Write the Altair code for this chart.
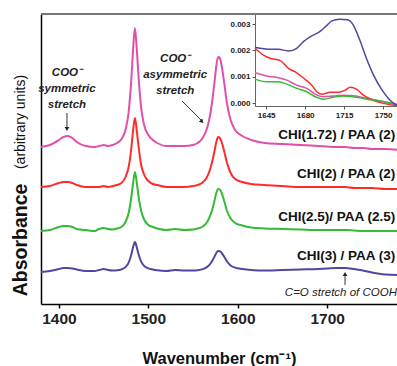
import altair as alt
import pandas as pd

# ---------------- main spectra (offset, arbitrary units) ----------------
wavenumber = [1380, 1390, 1400, 1405, 1410, 1415, 1420, 1430, 1440, 1445,
              1450, 1455, 1460, 1465, 1470, 1475, 1478, 1481, 1483, 1485,
              1487, 1489, 1492, 1495, 1500, 1505, 1510, 1520, 1530, 1540,
              1550, 1555, 1560, 1565, 1568, 1571, 1574, 1576, 1578, 1580,
              1582, 1585, 1588, 1592, 1597, 1605, 1615, 1630, 1650, 1670,
              1690, 1700, 1710, 1720, 1730, 1740, 1750, 1765, 1780]

pink_vals = [157, 159, 164, 167, 168, 166, 162, 158, 157, 158,
             159, 158, 159, 161, 165, 176, 192, 225, 255, 276,
             256, 228, 196, 180, 169, 164, 161, 158, 158, 158,
             159, 161, 165, 174, 184, 200, 222, 238, 247, 246,
             238, 220, 200, 184, 174, 168, 164, 161, 160, 159,
             158, 157.5, 157, 157, 156, 156, 155, 155, 154]

red_vals = [117, 118, 121, 122, 122, 121, 119, 117, 117, 117,
            118, 117, 118, 119, 121, 128, 137, 156, 174, 186,
            174, 158, 139, 130, 123, 120, 119, 117, 117, 117,
            118, 119, 121, 126, 132, 141, 153, 162, 167, 166,
            162, 152, 141, 131, 125, 122, 120, 119, 118, 117,
            117, 117, 117, 117, 116, 116, 116, 115, 115]

green_vals = [73, 74, 77, 78, 78, 77, 75, 74, 73, 75,
              76, 75, 74.5, 75.5, 77, 83, 91, 107, 121, 132,
              122, 108, 93, 85, 79, 77, 75.5, 74, 75, 74,
              74.5, 75.5, 77, 81, 86, 93, 103.5, 111, 115, 114.5,
              111, 102.5, 93, 85.5, 81, 78.5, 76.5, 75.5, 75, 74.5,
              74, 74, 74, 74, 73.5, 73, 73, 73, 73]

blue_vals = [32, 33, 35, 36, 36, 35.5, 34.5, 33, 33, 34,
             35, 34, 33.5, 33.7, 34.7, 37.4, 41.4, 49.5, 57, 62,
             57, 50, 42.3, 38.4, 35.7, 34.5, 33.7, 33, 34, 33.5,
             33.5, 33.7, 34.6, 36.6, 38.9, 42.5, 47.4, 51, 53, 52.8,
             51, 47, 42.5, 38.6, 36.4, 35, 34, 33.5, 34, 34.5,
             35, 35.5, 36, 36, 35, 33.5, 31.5, 29.5, 29]

series_names = ["CHI(1.72) / PAA (2)", "CHI(2) / PAA (2)",
                "CHI(2.5)/ PAA (2.5)", "CHI(3) / PAA (3)"]
series_colors = ["#DF50AA", "#FF2B2B", "#33BB33", "#4F47A0"]

# ---------------- inset spectra ----------------
inset_blue_wn = [1635, 1649, 1656, 1665, 1672.5, 1678.5, 1686, 1693.5, 1699.5, 1704,
                 1711, 1718, 1723, 1729, 1735, 1741, 1749, 1756, 1763]
inset_blue = [0.00212, 0.00204, 0.00204, 0.00198, 0.00208, 0.00233, 0.00255, 0.00272,
              0.00295, 0.00312, 0.00318, 0.00316, 0.00298, 0.00240, 0.00170, 0.00110,
              0.00050, 0.00012, -0.00010]

inset_red_wn = [1635, 1642.6, 1648.6, 1657.6, 1665, 1672.5, 1680, 1686, 1690.5, 1695,
                1702.5, 1710, 1716, 1720.4, 1726.4, 1732.3, 1741, 1750.3, 1763]
inset_red = [0.00208, 0.00182, 0.00170, 0.00161, 0.00132, 0.00115, 0.00090, 0.00068,
             0.00043, 0.00034, 0.00041, 0.00041, 0.00049, 0.00060, 0.00052, 0.00030,
             0.00011, -0.00001, -0.00010]

inset_pg_wn = [1635, 1645.6, 1656, 1663.6, 1672.5, 1681.5, 1689, 1696.4, 1705.4,
               1714.4, 1723.4, 1735.4, 1747.3, 1762.3]
inset_pink = [0.00115, 0.00103, 0.00096, 0.00087, 0.00068, 0.00056, 0.00034, 0.00024,
              0.00027, 0.00030, 0.00028, 0.00018, 0.00008, -0.00008]
inset_green = [0.00091, 0.00081, 0.00081, 0.00072, 0.00056, 0.00043, 0.00024, 0.00015,
               0.00022, 0.00027, 0.00024, 0.00015, 0.00008, -0.00004]

# ---------------- annotations (in main data coordinates) ----------------
label_wn = [1776, 1776, 1776, 1776]
label_val = [169, 130, 87, 48]

coo_text = ["COO⁻", "symmetric", "stretch", "COO⁻", "asymmetric", "stretch"]
coo_wn = [1409, 1409, 1409, 1530, 1530, 1530]
coo_val = [231, 215, 199, 245, 229, 213]

cooh_text = ["C=O stretch of COOH"]
cooh_wn = [1778]
cooh_val = [11]

arrow_wn = [1409, 1537.6, 1719.9]
arrow_val = [191, 203, 19]
arrow_wn2 = [1409, 1558.9, 1719.9]
arrow_val2 = [176, 184, 29]
head_wn = [1409, 1560, 1719.9]
head_val = [175, 182.5, 30]
head_angle = [180, 136, 0]

ytitle_bold = ["Absorbance"]
ytitle_bold_val = [64]
ytitle_plain = ["(arbitrary units)"]
ytitle_plain_val = [182]
ytitle_wn = [1357.6]

FONT = "Liberation Sans"

# ---------------- build tables ----------------
rows = []
for name, vals in zip(series_names, [pink_vals, red_vals, green_vals, blue_vals]):
    for w, v in zip(wavenumber, vals):
        rows.append({"wn": w, "val": v, "series": name})
main_df = pd.DataFrame(rows)

irows = []
for name, wns, vals in [(series_names[0], inset_pg_wn, inset_pink),
                        (series_names[1], inset_red_wn, inset_red),
                        (series_names[2], inset_pg_wn, inset_green),
                        (series_names[3], inset_blue_wn, inset_blue)]:
    for w, v in zip(wns, vals):
        irows.append({"iwn": w, "ival": v, "series": name})
inset_df = pd.DataFrame(irows)

labels_df = pd.DataFrame({"wn": label_wn, "val": label_val, "text": series_names})
coo_df = pd.DataFrame({"wn": coo_wn, "val": coo_val, "text": coo_text})
cooh_df = pd.DataFrame({"wn": cooh_wn, "val": cooh_val, "text": cooh_text})
arrow_df = pd.DataFrame({"wn": arrow_wn, "val": arrow_val, "wn2": arrow_wn2, "val2": arrow_val2})
head_df = pd.DataFrame({"wn": head_wn, "val": head_val, "ang": head_angle})
ytb_df = pd.DataFrame({"wn": ytitle_wn, "val": ytitle_bold_val, "text": ytitle_bold})
ytp_df = pd.DataFrame({"wn": ytitle_wn, "val": ytitle_plain_val, "text": ytitle_plain})

color_enc = alt.Color("series:N", scale=alt.Scale(domain=series_names, range=series_colors),
                      legend=None)

x_main = alt.X("wn:Q",
               scale=alt.Scale(domain=[1380, 1778], nice=False, zero=False),
               axis=alt.Axis(values=[1400, 1500, 1600, 1700], format="d",
                             title="Wavenumber (cm⁻¹)", grid=False,
                             tickSize=4, tickWidth=1.5, tickColor="black",
                             domainColor="black", domainWidth=1.5,
                             labelFontSize=15.5, labelFontWeight="bold", labelColor="#222",
                             labelPadding=3, labelFlush=False,
                             titleFontSize=16.5, titleFontWeight="bold", titleColor="#111",
                             titlePadding=24))
y_main = alt.Y("val:Q",
               scale=alt.Scale(domain=[0, 290], nice=False, zero=False),
               axis=alt.Axis(title=None, labels=False, ticks=False, grid=False,
                             domainColor="black", domainWidth=1.5))

lines = alt.Chart(main_df).mark_line(strokeWidth=2, interpolate="monotone").encode(
    x=x_main, y=y_main, color=color_enc, detail="series:N")

frame_top = alt.Chart(main_df).mark_rule(color="#777", strokeWidth=2).encode(
    x=alt.value(0), x2=alt.value(356), y=alt.value(0))

labels = alt.Chart(labels_df).mark_text(align="right", baseline="middle", fontSize=13.5,
                                        fontWeight="bold", color="#111", font=FONT).encode(
    x="wn:Q", y="val:Q", text="text:N")

coo = alt.Chart(coo_df).mark_text(align="center", baseline="middle", fontSize=11.5,
                                  fontWeight="bold", fontStyle="italic", color="#222",
                                  font=FONT).encode(
    x="wn:Q", y="val:Q", text="text:N")

cooh = alt.Chart(cooh_df).mark_text(align="right", baseline="middle", fontSize=11.5,
                                    fontStyle="italic", color="#222", font=FONT).encode(
    x="wn:Q", y="val:Q", text="text:N")

arrows = alt.Chart(arrow_df).mark_rule(color="#333", strokeWidth=1).encode(
    x="wn:Q", y="val:Q", x2="wn2:Q", y2="val2:Q")

heads = alt.Chart(head_df).mark_point(shape="triangle-up", filled=True, size=22,
                                      color="#222", opacity=1).encode(
    x="wn:Q", y="val:Q", angle=alt.Angle("ang:Q", scale=None))

ytitle_b = alt.Chart(ytb_df).mark_text(angle=270, align="center", baseline="middle",
                                       fontSize=19.5, fontWeight="bold", color="#111",
                                       font=FONT).encode(
    x="wn:Q", y="val:Q", text="text:N")
ytitle_p = alt.Chart(ytp_df).mark_text(angle=270, align="center", baseline="middle",
                                       fontSize=14, fontWeight="normal", color="#111",
                                       font=FONT).encode(
    x="wn:Q", y="val:Q", text="text:N")

main_layer = alt.layer(lines, frame_top, labels, coo, cooh, arrows, heads, ytitle_b, ytitle_p)

x_in = alt.X("iwn:Q",
             scale=alt.Scale(domain=[1635, 1762.5], range=[214, 356], nice=False, zero=False),
             axis=alt.Axis(orient="bottom", offset=-198, values=[1645, 1680, 1715, 1750],
                           format="d", title=None, grid=False, tickSize=3,
                           tickColor="#555", domainColor="#666", domainWidth=1,
                           labelFontSize=8, labelFontWeight="bold", labelColor="#222",
                           labelPadding=2, labelFlush=False))
y_in = alt.Y("ival:Q",
             scale=alt.Scale(domain=[-0.00011, 0.00338], range=[92, 0], nice=False, zero=False),
             axis=alt.Axis(orient="left", offset=-214, values=[0, 0.001, 0.002, 0.003],
                           format=".3f", title=None, grid=False, tickSize=3,
                           tickColor="#555", domainColor="#666", domainWidth=1,
                           labelFontSize=8, labelFontWeight="bold", labelColor="#222",
                           labelPadding=2, labelFlush=False))

inset = alt.Chart(inset_df).mark_line(strokeWidth=1.5, interpolate="monotone").encode(
    x=x_in, y=y_in, color=color_enc, detail="series:N")

chart = alt.layer(main_layer, inset).resolve_scale(
    x="independent", y="independent"
).properties(
    width=356, height=290,
    padding={"left": 41, "top": 14, "right": 0, "bottom": 62},
    autosize=alt.AutoSizeParams(type="none"),
    background="white",
).configure(font=FONT).configure_view(stroke=None)

chart.save("out.html", embed_options={"renderer": "svg", "actions": False})
